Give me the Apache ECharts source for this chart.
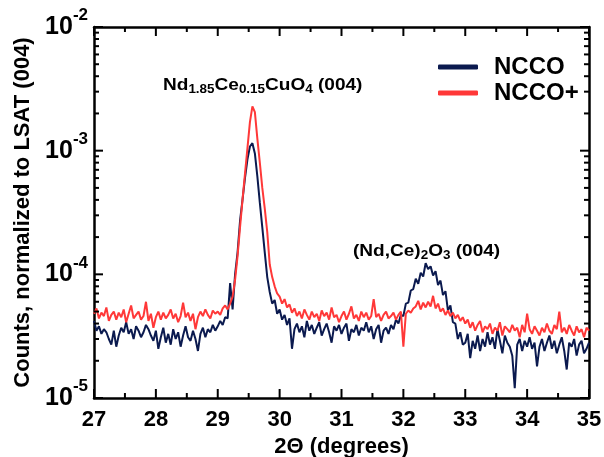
<!DOCTYPE html>
<html>
<head>
<meta charset="utf-8">
<script src="https://cdn.jsdelivr.net/npm/echarts@6/dist/echarts.min.js"></script>
<style>
html, body { margin: 0; padding: 0; background: #fff; }
#chart { width: 604px; height: 457px; }
</style>
</head>
<body>
<div id="chart"></div>
<script>
// XRD scans: 2theta from 27 to 35 deg, one reading every 0.04 deg
var thetaStart = 27;
var thetaStep = 0.04;
// counts normalized to LSAT (004), in units of 1e-5
var unit = 1e-5;
var ncco = [
  4.2, 3.5, 3.8, 3.3, 3.6, 3.4, 3.0, 2.7, 3.5, 2.6,
  3.2, 3.7, 3.4, 4.1, 3.3, 3.6, 3.0, 3.8, 3.5, 3.1,
  3.4, 3.9, 3.6, 3.2, 2.9, 3.5, 2.5, 3.1, 3.7, 2.8,
  3.3, 2.7, 3.6, 3.0, 3.4, 2.6, 3.2, 3.8, 3.1, 2.9,
  3.5, 3.0, 2.4, 3.3, 3.7, 3.1, 3.6, 3.4, 3.9, 3.5,
  3.8, 4.2, 3.9, 4.5, 4.4, 8.5, 5.2, 10, 15, 27,
  40, 60, 85, 108, 115, 95, 62, 38, 24, 15,
  9.5, 7.2, 5.8, 6.2, 4.8, 5.2, 4.3, 4.7, 3.9, 4.4,
  2.5, 3.6, 4.0, 3.4, 3.8, 3.1, 4.2, 3.5, 3.9, 3.3,
  3.7, 4.1, 3.2, 3.6, 4.0, 3.4, 2.8, 3.8, 3.5, 3.9,
  3.3, 3.7, 4.0, 2.9, 3.6, 3.4, 3.9, 3.2, 3.7, 3.5,
  4.1, 3.4, 3.8, 3.0, 3.6, 3.9, 2.8, 3.5, 3.7, 3.3,
  3.9, 3.6, 4.3, 4.0, 4.7, 4.6, 5.8, 5.9, 7.4, 7.6,
  9.2, 8.4, 10.3, 9.6, 12.3, 11.0, 11.6, 9.8, 10.6, 8.2,
  8.9, 6.8, 7.3, 5.1, 5.6, 4.1, 4.0, 3.0, 3.4, 2.7,
  2.8, 3.3, 2.1, 2.9, 2.5, 3.2, 2.4, 3.0, 2.6, 3.4,
  2.7, 3.1, 2.5, 3.6, 2.9, 2.3, 3.2, 2.8, 2.6, 2.2,
  1.2, 2.7, 3.0, 2.4, 2.9, 2.6, 3.1, 2.5, 2.8, 1.8,
  2.6, 3.0, 2.4, 2.8, 3.2, 2.5, 2.9, 2.3, 2.7, 3.1,
  2.4, 1.7, 2.8, 2.6, 3.0, 2.2, 2.7, 2.9, 2.3, 2.5,
  2.8
];
var nccoPlus = [
  4.8, 5.3, 4.4, 4.9, 4.6, 5.4, 4.2, 4.7, 5.0, 4.3,
  4.9, 4.5, 5.2, 4.1, 4.8, 5.6, 4.4, 4.7, 5.0, 4.3,
  4.6, 6.0, 4.2, 4.8, 3.7, 4.5, 5.0, 4.3, 4.9, 4.4,
  4.7, 5.2, 4.4, 4.8, 4.1, 4.6, 5.9, 4.5, 4.9, 4.2,
  4.8, 3.6, 4.5, 5.0, 4.6, 5.2, 4.7, 4.4, 5.1, 4.8,
  5.0, 4.7, 5.3, 5.6, 5.2, 5.8, 6.6, 9, 14, 24,
  40, 65, 105, 170, 228, 205, 125, 80, 50, 34,
  22, 12, 9.5, 8.0, 7.0, 6.6, 5.8, 6.3, 5.4, 5.7,
  4.9, 5.3, 4.6, 5.0, 4.4, 5.2, 4.7, 4.3, 5.0, 4.5,
  4.8, 4.2, 5.1, 4.6, 4.9, 4.3, 5.4, 4.5, 4.7, 4.1,
  4.6, 5.0, 4.3, 4.8, 5.5, 4.4, 4.7, 4.2, 5.0, 4.5,
  4.9, 4.3, 4.6, 6.3, 4.5, 4.8, 4.2, 4.7, 5.0, 4.4,
  4.6, 4.9, 4.3, 4.7, 5.0, 2.6, 4.8, 5.1, 4.9, 5.3,
  5.5, 6.1, 5.2, 5.9, 5.4, 6.0, 5.5, 6.7, 5.3, 5.8,
  5.0, 5.3, 4.7, 5.1, 4.6, 4.9, 4.4, 4.7, 4.2, 4.5,
  4.0, 4.3, 3.7, 4.1, 3.5, 3.9, 4.2, 3.4, 3.8, 3.6,
  4.0, 3.3, 3.7, 3.5, 4.1, 3.2, 3.8, 3.6, 3.4, 3.9,
  3.5, 3.7, 3.1, 3.9, 3.4, 4.8, 3.6, 3.3, 3.8, 3.5,
  3.2, 3.7, 3.4, 4.0, 3.5, 3.3, 3.9, 3.6, 5.0, 3.4,
  3.7, 3.3, 3.9, 3.5, 3.2, 3.8, 3.4, 3.6, 3.1, 3.7,
  3.5
];
var seriesNames = ['NCCO', 'NCCO+'];
var seriesColors = ['#0b1a4f', '#ff3838'];
var xTicks = [27, 28, 29, 30, 31, 32, 33, 34, 35];
var decades = [1e-5, 1e-4, 1e-3, 1e-2];

var xMin = xTicks[0], xMax = xTicks[xTicks.length - 1];
var yMin = decades[0], yMax = decades[decades.length - 1];

function toPairs(list) {
  var out = [];
  for (var i = 0; i < list.length; i++) {
    out.push([+(thetaStart + i * thetaStep).toFixed(2), list[i] * unit]);
  }
  return out;
}

// tick marks: [x, y, length, 0 = x tick / 1 = y tick]
// axis ticks did not show up in v6 here, so they are drawn by a custom series
var tickData = [];
xTicks.forEach(function (t, i) {
  tickData.push([t, yMin, 9, 0]);
  if (i < xTicks.length - 1) tickData.push([t + 0.5, yMin, 5, 0]);
});
decades.forEach(function (dec, i) {
  tickData.push([xMin, dec, 9, 1]);
  if (i < decades.length - 1) {
    for (var k = 2; k <= 9; k++) tickData.push([xMin, dec * k, 5, 1]);
  }
});

function renderTick(params, api) {
  var len = api.value(2);
  var style = { stroke: '#000', lineWidth: 2 };
  var a, b;
  if (api.value(3) === 0) {
    a = api.coord([api.value(0), yMin]);
    b = api.coord([api.value(0), yMax]);
    return { type: 'group', children: [
      { type: 'line', shape: { x1: a[0], y1: a[1], x2: a[0], y2: a[1] - len }, style: style },
      { type: 'line', shape: { x1: b[0], y1: b[1], x2: b[0], y2: b[1] + len }, style: style }
    ] };
  }
  a = api.coord([xMin, api.value(1)]);
  b = api.coord([xMax, api.value(1)]);
  return { type: 'group', children: [
    { type: 'line', shape: { x1: a[0], y1: a[1], x2: a[0] + len, y2: a[1] }, style: style },
    { type: 'line', shape: { x1: b[0], y1: b[1], x2: b[0] - len, y2: b[1] }, style: style }
  ] };
}

function axisLine() {
  return { show: true, onZero: false, lineStyle: { color: '#000', width: 2.5 } };
}

var option = {
  animation: false,
  backgroundColor: '#fff',
  grid: { left: 94, right: 15, top: 27, bottom: 59, containLabel: false, outerBoundsMode: 'none' },
  legend: {
    data: seriesNames,
    orient: 'vertical',
    left: 433, top: 50,
    icon: 'roundRect',
    itemWidth: 40, itemHeight: 5, itemGap: 2,
    textStyle: { color: '#000', fontSize: 24, fontWeight: 'bold', padding: [0, 0, 0, 11] }
  },
  xAxis: [
    {
      type: 'value', position: 'bottom', min: xMin, max: xMax, interval: 1,
      axisLine: axisLine(), axisTick: { show: false }, splitLine: { show: false },
      axisLabel: { color: '#000', fontSize: 22, fontWeight: 'bold', margin: 11 },
      name: '2\u0398 (degrees)', nameLocation: 'middle', nameGap: 36,
      nameTextStyle: { color: '#000', fontSize: 22, fontWeight: 'bold' }
    },
    {
      type: 'value', position: 'top', min: xMin, max: xMax, interval: 1,
      axisLine: axisLine(), axisTick: { show: false }, splitLine: { show: false },
      axisLabel: { show: false }
    }
  ],
  yAxis: [
    {
      type: 'log', logBase: 10, position: 'left', min: yMin, max: yMax,
      axisLine: axisLine(), axisTick: { show: false }, splitLine: { show: false },
      axisLabel: {
        margin: 6,
        formatter: function (v) {
          return '{m|10}{s|' + Math.round(Math.log10(v)) + '}';
        },
        rich: {
          m: { fontSize: 25, fontWeight: 'bold', color: '#000', lineHeight: 40 },
          s: { fontSize: 17, fontWeight: 'bold', color: '#000', lineHeight: 18, verticalAlign: 'top' }
        }
      },
      name: 'Counts, normalized to LSAT (004)', nameLocation: 'middle', nameGap: 56,
      nameTextStyle: { color: '#000', fontSize: 22, fontWeight: 'bold' }
    },
    {
      type: 'log', logBase: 10, position: 'right', min: yMin, max: yMax,
      axisLine: axisLine(), axisTick: { show: false }, splitLine: { show: false },
      axisLabel: { show: false }
    }
  ],
  graphic: [
    {
      type: 'text', left: 163, top: 77, scaleX: 1.12,
      style: {
        text: '{m|Nd}{s|1.85}{m|Ce}{s|0.15}{m|CuO}{s|4}{m| (004)}',
        rich: {
          m: { fontSize: 17, fontWeight: 'bold', fill: '#000', lineHeight: 21 },
          s: { fontSize: 12, fontWeight: 'bold', fill: '#000', verticalAlign: 'bottom' }
        }
      }
    },
    {
      type: 'text', left: 353, top: 243, scaleX: 1.12,
      style: {
        text: '{m|(Nd,Ce)}{s|2}{m|O}{s|3}{m| (004)}',
        rich: {
          m: { fontSize: 17, fontWeight: 'bold', fill: '#000', lineHeight: 21 },
          s: { fontSize: 12, fontWeight: 'bold', fill: '#000', verticalAlign: 'bottom' }
        }
      }
    }
  ],
  series: [
    {
      name: seriesNames[0], type: 'line', xAxisIndex: 0, yAxisIndex: 0,
      data: toPairs(ncco), showSymbol: false, color: seriesColors[0],
      lineStyle: { color: seriesColors[0], width: 2 }
    },
    {
      name: seriesNames[1], type: 'line', xAxisIndex: 0, yAxisIndex: 0,
      data: toPairs(nccoPlus), showSymbol: false, color: seriesColors[1],
      lineStyle: { color: seriesColors[1], width: 2 }
    },
    {
      name: 'ticks', type: 'custom', xAxisIndex: 0, yAxisIndex: 0,
      data: tickData, renderItem: renderTick, clip: false, silent: true, z: 5
    }
  ]
};

var chart = echarts.init(document.getElementById('chart'));
chart.setOption(option);
</script>
</body>
</html>
